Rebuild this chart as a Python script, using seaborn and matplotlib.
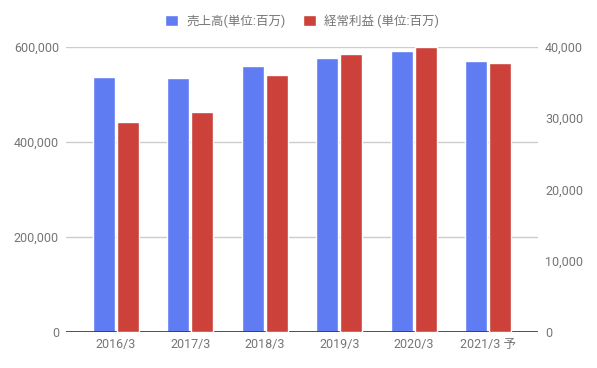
import numpy as np
import pandas as pd
import matplotlib
matplotlib.use("Agg")
import matplotlib.pyplot as plt
from matplotlib.patches import Patch
import seaborn as sns

# chart data
periods = ["2016/3", "2017/3", "2018/3", "2019/3", "2020/3", "2021/3 予"]
sales = [537000, 534500, 560000, 577000, 591500, 570500]          # 売上高 (left axis)
ordinary_profit = [29500, 30900, 36100, 39000, 40000, 37800]    # 経常利益 (right axis)
sales_label = "売上高(単位:百万)"
profit_label = "経常利益 (単位:百万)"

blue = "#607cf2"
red = "#cc4139"
grey_text = "#757575"

sns.set_theme(style="white")
plt.rcParams["font.family"] = ["Roboto", "Noto Sans CJK JP", "DejaVu Sans"]

fig = plt.figure(figsize=(5.97, 3.68), dpi=100)
ax = fig.add_axes([66 / 597, 1 - 332 / 368, (538 - 66) / 597, (332 - 47) / 368])
ax2 = ax.twinx()

pos = np.arange(len(periods))
offset = 0.161

sns.barplot(x=pos - offset, y=sales, native_scale=True, width=0.296,
            color=blue, saturation=1, ax=ax, zorder=3)
sns.barplot(x=pos + offset, y=ordinary_profit, native_scale=True, width=0.296,
            color=red, saturation=1, ax=ax2, zorder=3)

# left axis
ax.set_ylim(0, 600000)
ax.set_yticks([0, 200000, 400000, 600000])
ax.set_yticklabels([f"{v:,}" for v in [0, 200000, 400000, 600000]])
ax.yaxis.grid(True, color="#cccccc", linewidth=1)
ax.set_axisbelow(True)

# right axis
ax2.set_ylim(0, 40000)
ax2.set_yticks([0, 10000, 20000, 30000, 40000])
ax2.set_yticklabels([f"{v:,}" for v in [0, 10000, 20000, 30000, 40000]])
ax2.grid(False)

ax.set_xlim(-0.672, 5.672)
ax.set_xticks(pos)
ax.set_xticklabels(periods)

for a in (ax, ax2):
    for side in ("top", "left", "right", "bottom"):
        a.spines[side].set_visible(False)
    a.tick_params(axis="both", length=0, labelsize=9, labelcolor=grey_text)
    a.set_xlabel("")
    a.set_ylabel("")

ax.tick_params(axis="y", pad=5)
ax2.tick_params(axis="y", pad=5)
ax.tick_params(axis="x", pad=4)
ax.axhline(0, color="#333333", linewidth=1.2, zorder=5)

handles = [Patch(facecolor=blue, label=sales_label),
           Patch(facecolor=red, label=profit_label)]
fig.legend(handles=handles, loc="center", bbox_to_anchor=(0.506, 0.943),
           ncol=2, frameon=False, fontsize=9, handlelength=1.0, handleheight=1.0,
           handletextpad=0.7, columnspacing=1.4, labelcolor=grey_text)

fig.savefig("out.png", dpi=100)
